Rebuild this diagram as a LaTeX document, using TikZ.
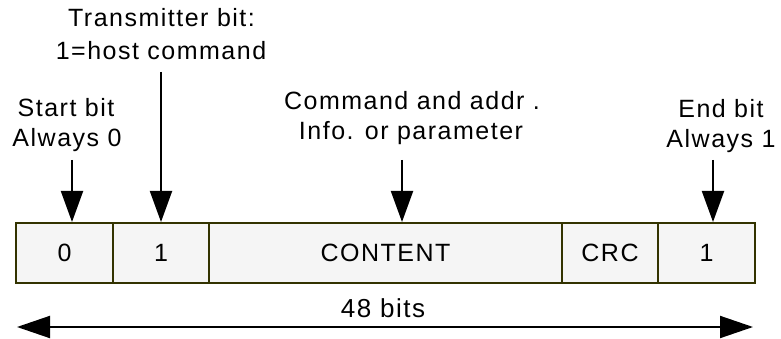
\documentclass[tikz,border=0pt]{standalone}
\usepackage{fontspec}
\setmainfont{Liberation Sans}[LetterSpace=6]
\usetikzlibrary{arrows.meta}
\definecolor{cellfill}{HTML}{F5F5F5}
\definecolor{cellline}{HTML}{333300}
\begin{document}
\begin{tikzpicture}[x=1pt,y=-1pt,
  cell/.style={draw=cellline,fill=cellfill,line width=2pt,minimum height=60pt,inner sep=0pt,font=\fontsize{25}{28}\selectfont},
  lbl/.style={align=center,font=\fontsize{25}{28}\selectfont,inner sep=0pt},
  pointer/.style={line width=2pt,-{Triangle[length=31pt,width=22pt]}},
  span/.style={line width=2pt,{Triangle[length=33pt,width=22pt]}-{Triangle[length=33pt,width=22pt]}}]
\useasboundingbox (0,0) rectangle (781,339);
\node[cell,minimum width=97pt] (c0) at (64.5,253) {0};
\node[cell,minimum width=96pt] (c1) at (161,253) {1};
\node[cell,minimum width=353pt] (c2) at (385.5,253) {CONTENT};
\node[cell,minimum width=96pt] (c3) at (610,253) {CRC};
\node[cell,minimum width=97pt] (c4) at (706.5,253) {1};
\node[lbl,anchor=base] (t1) at (161.5,27) {Transmitter bit:};
\node[lbl,anchor=base] (t2) at (161,60) {1=host command};
\node[lbl,anchor=base] (s1) at (66,117) {Start bit};
\node[lbl,anchor=base] (s2) at (67,147) {Always 0};
\node[lbl,anchor=base] (m1) at (412,110) {Command and addr .};
\node[lbl,anchor=base] (m2) at (411,140) {Info. or parameter};
\node[lbl,anchor=base] (e1) at (721,118) {End bit};
\node[lbl,anchor=base] (e2) at (721,148) {Always 1};
\node[lbl,anchor=base,font=\fontsize{26}{28}\selectfont] (len) at (383,317) {48 bits};
\coordinate (ps) at (72,160);
\coordinate (pt) at (161,72);
\coordinate (pm) at (402,160);
\coordinate (pe) at (713,160);
\draw[pointer] (ps) -- (ps |- c0.north);
\draw[pointer] (pt) -- (pt |- c1.north);
\draw[pointer] (pm) -- (pm |- c2.north);
\draw[pointer] (pe) -- (pe |- c4.north);
\coordinate (la) at (17,327);
\coordinate (ra) at (753,327);
\draw[span] (la) -- (ra);
\end{tikzpicture}
\end{document}
